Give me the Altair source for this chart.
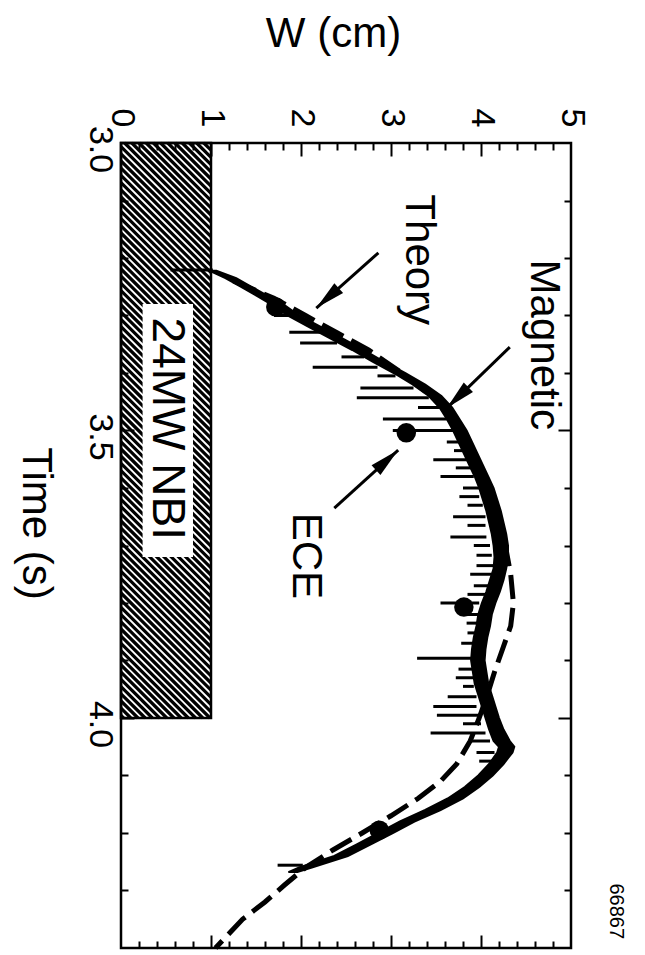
import math
import altair as alt
import pandas as pd

FONT = "Liberation Sans"

# ---------------- data ----------------
# Theory (dashed) : time (s) and W (cm)
theory_t = [3.24, 3.27, 3.30, 3.33, 3.36, 3.40, 3.44, 3.48, 3.52, 3.56, 3.60, 3.65, 3.70, 3.75, 3.80, 3.84,
            3.88, 3.92, 3.96, 4.00, 4.04, 4.08, 4.11, 4.14, 4.17, 4.20, 4.23, 4.26, 4.29, 4.32, 4.35, 4.38, 4.40]
theory_w = [1.25, 1.70, 2.05, 2.40, 2.75, 3.12, 3.45, 3.68, 3.86, 3.98, 4.08, 4.18, 4.27, 4.33, 4.36, 4.33,
            4.24, 4.15, 4.07, 3.98, 3.88, 3.73, 3.55, 3.30, 3.00, 2.68, 2.35, 2.05, 1.82, 1.60, 1.35, 1.17, 1.05]

# Magnetic (noisy solid trace): core of the trace
mag_t = [3.222, 3.235, 3.250, 3.265, 3.280, 3.300, 3.320, 3.340, 3.360, 3.380, 3.400, 3.420, 3.440, 3.460,
         3.480, 3.500, 3.520, 3.540, 3.560, 3.580, 3.600, 3.620, 3.640, 3.660, 3.680, 3.700, 3.720, 3.740,
         3.760, 3.780, 3.800, 3.820, 3.840, 3.860, 3.880, 3.900, 3.920, 3.940, 3.960, 3.980, 4.000, 4.020,
         4.040, 4.050, 4.060, 4.080, 4.100, 4.120, 4.140, 4.160, 4.180, 4.200, 4.220, 4.240, 4.260, 4.268]
mag_lo = [0.98, 1.16, 1.33, 1.50, 1.66, 1.85, 2.09, 2.33, 2.57, 2.79, 3.03, 3.24, 3.42, 3.54,
          3.62, 3.69, 3.75, 3.81, 3.87, 3.93, 3.98, 4.02, 4.06, 4.09, 4.12, 4.14, 4.15, 4.14,
          4.10, 4.06, 4.01, 3.97, 3.95, 3.92, 3.90, 3.89, 3.91, 3.93, 3.97, 4.01, 4.05, 4.09,
          4.14, 4.20, 4.18, 4.09, 3.97, 3.82, 3.63, 3.38, 3.10, 2.86, 2.62, 2.37, 1.98, 1.86]
mag_hi = [1.06, 1.28, 1.45, 1.62, 1.80, 1.98, 2.22, 2.46, 2.70, 2.92, 3.16, 3.38, 3.56, 3.68,
          3.76, 3.84, 3.90, 3.96, 4.02, 4.08, 4.14, 4.18, 4.22, 4.25, 4.28, 4.30, 4.30, 4.28,
          4.25, 4.21, 4.16, 4.12, 4.10, 4.07, 4.05, 4.04, 4.06, 4.08, 4.12, 4.16, 4.20, 4.25,
          4.32, 4.37, 4.35, 4.25, 4.13, 3.98, 3.80, 3.55, 3.26, 3.02, 2.77, 2.52, 2.12, 1.96]

# Magnetic spikes / noise excursions
spike_t = [3.221, 3.300, 3.329, 3.348, 3.372, 3.390, 3.405, 3.426, 3.443, 3.460, 3.480, 3.500,
           3.520, 3.535, 3.551, 3.565, 3.580, 3.600, 3.615, 3.630, 3.650, 3.665, 3.685, 3.700,
           3.717, 3.735, 3.750, 3.770, 3.785, 3.800, 3.820, 3.835, 3.852, 3.870, 3.896, 3.915,
           3.930, 3.945, 3.963, 3.980, 3.995, 4.010, 4.026, 4.040, 4.060, 4.075, 4.256]
spike_lo = [0.55, 1.70, 1.87, 1.99, 2.45, 2.13, 2.85, 2.66, 2.62, 3.30, 2.91, 3.02,
            3.62, 3.70, 3.47, 3.72, 3.55, 3.80, 3.76, 3.85, 3.69, 3.85, 3.66, 3.92,
            3.95, 3.95, 3.88, 3.92, 3.85, 3.55, 3.80, 3.84, 3.85, 3.78, 3.29, 3.75,
            3.72, 3.80, 3.63, 3.47, 3.51, 3.80, 3.44, 3.90, 3.95, 3.98, 1.74]
spike_hi = [1.02, 1.90, 2.25, 2.40, 2.70, 2.85, 3.05, 3.25, 3.42, 3.55, 3.62, 3.70,
            3.80, 3.85, 3.85, 3.90, 3.92, 3.98, 3.98, 4.02, 4.05, 4.05, 4.06, 4.10,
            4.12, 4.15, 4.12, 4.10, 4.05, 3.98, 3.98, 3.96, 4.05, 3.92, 3.90, 3.92,
            3.92, 3.92, 3.95, 3.95, 3.98, 4.00, 4.05, 4.10, 4.15, 4.15, 2.02]

# ECE points
ece_t = [3.285, 3.504, 3.807, 4.195]
ece_w = [1.72, 3.17, 3.81, 2.87]

# NBI heating window
nbi_t = [3.0, 4.0]
nbi_w = [0.0, 1.0]
nbi_label_box_t = [3.28, 3.72]
nbi_label_box_w = [0.24, 0.80]

# Annotations
label_text = ["Theory", "Magnetic", "ECE", "24MW NBI", "66867"]
label_w = [3.17, 4.56, 1.91, 0.36, 5.43]
label_t = [3.203, 3.351, 3.718, 3.497, 4.336]
label_size = [42, 42, 42, 46, 20]

arrow_w0 = [2.86, 4.32, 2.37]
arrow_t0 = [3.191, 3.355, 3.635]
arrow_w1 = [2.17, 3.62, 3.08]
arrow_t1 = [3.287, 3.461, 3.534]

# Axes
w_domain = [0, 5]
t_domain = [3.0, 4.4]
w_labels = [0, 1, 2, 3, 4, 5]
t_labels = [3.0, 3.5, 4.0]
w_major = [1, 2, 3, 4]
w_minor = [0.2, 0.4, 0.6, 0.8, 1.2, 1.4, 1.6, 1.8, 2.2, 2.4, 2.6, 2.8,
           3.2, 3.4, 3.6, 3.8, 4.2, 4.4, 4.6, 4.8]
t_major = [3.5, 4.0]
t_minor = [3.1, 3.2, 3.3, 3.4, 3.6, 3.7, 3.8, 3.9, 4.1, 4.2, 4.3]

# ---------------- layout ----------------
PW, PH = 450, 805
PX_W = PW / (w_domain[1] - w_domain[0])
PX_T = PH / (t_domain[1] - t_domain[0])

xs = alt.Scale(domain=w_domain, nice=False, zero=False)
ys = alt.Scale(domain=t_domain, nice=False, zero=False, reverse=True)

theory_df = pd.DataFrame({"t": theory_t, "W": theory_w})
band_df = pd.DataFrame({"t": mag_t, "lo": mag_lo, "hi": mag_hi})
spike_df = pd.DataFrame({"t": spike_t, "lo": spike_lo, "hi": spike_hi})
ece_df = pd.DataFrame({"t": ece_t, "W": ece_w})
box_df = pd.DataFrame({"t0": [nbi_t[0]], "t1": [nbi_t[1]], "w0": [nbi_w[0]], "w1": [nbi_w[1]]})
lbox_df = pd.DataFrame({"t0": [nbi_label_box_t[0]], "t1": [nbi_label_box_t[1]],
                        "w0": [nbi_label_box_w[0]], "w1": [nbi_label_box_w[1]]})
text_df = pd.DataFrame({"label": label_text, "W": label_w, "t": label_t, "size": label_size})

angles = []
for a0, b0, a1, b1 in zip(arrow_w0, arrow_t0, arrow_w1, arrow_t1):
    dx = (a1 - a0) * PX_W
    dy = (b1 - b0) * PX_T
    angles.append((math.degrees(math.atan2(dx, -dy)) + 360.0) % 360.0)
arrow_df = pd.DataFrame({"w0": arrow_w0, "t0": arrow_t0, "w1": arrow_w1, "t1": arrow_t1, "angle": angles})

# hatch pattern (decoration) inside the NBI box, 45 degrees on screen
k = PX_T / PX_W
step = 7.2 / PX_T
hatch_rows = []
i = 0
while True:
    s = nbi_t[0] - (nbi_w[1] - nbi_w[0]) / k + i * step
    if s >= nbi_t[1]:
        break
    ta = max(nbi_t[0], s)
    tb = min(nbi_t[1], s + (nbi_w[1] - nbi_w[0]) / k)
    if tb > ta:
        hatch_rows.append({"t0": ta, "t1": tb, "w0": (ta - s) * k, "w1": (tb - s) * k})
    i += 1
hatch_df = pd.DataFrame(hatch_rows)


def tick_axis(orient, values, size):
    return alt.Axis(orient=orient, values=values, tickSize=size, offset=-size, labels=False,
                    domain=False, grid=False, ticks=True, tickColor="black", tickWidth=2, title=None)


def axis_layer(xaxis, yaxis):
    return alt.Chart(theory_df).mark_point(opacity=0).encode(
        x=alt.X("W:Q", scale=xs, axis=xaxis),
        y=alt.Y("t:Q", scale=ys, axis=yaxis),
    )


main_x = alt.Axis(orient="top", values=w_labels, format="d", labelAngle=90, labelAlign="right",
                  labelBaseline="middle", labelPadding=16, labelFontSize=34, labelFont=FONT,
                  labelColor="black", labelFlush=False, labelOverlap=False, ticks=False, domain=False,
                  grid=False, title="W (cm)", titleFontSize=42, titleFont=FONT, titleFontWeight="normal",
                  titleColor="black", titleX=212, titleY=-110, titleAngle=0, titleAlign="center",
                  titleBaseline="middle")
main_y = alt.Axis(orient="left", values=t_labels, format=".1f", labelAngle=90, labelAlign="center",
                  labelBaseline="top", labelPadding=5, labelOffset=6, labelFontSize=34, labelFont=FONT,
                  labelColor="black", labelFlush=False, labelOverlap=False, ticks=False, domain=False,
                  grid=False, title="Time (s)", titleFontSize=42, titleFont=FONT, titleFontWeight="normal",
                  titleColor="black", titleX=-86, titleY=380, titleAngle=90, titleAlign="center",
                  titleBaseline="middle")

axes_layers = [
    axis_layer(main_x, main_y),
    axis_layer(tick_axis("top", w_minor, 7), tick_axis("left", t_minor, 7)),
    axis_layer(tick_axis("top", w_major, 13), tick_axis("left", t_major, 13)),
    axis_layer(tick_axis("bottom", w_minor, 7), tick_axis("right", t_minor, 7)),
    axis_layer(tick_axis("bottom", w_major, 13), tick_axis("right", t_major, 13)),
]

hatch = alt.Chart(hatch_df).mark_rule(color="black", strokeWidth=3.2).encode(
    x=alt.X("w0:Q", scale=xs, axis=None), x2="w1:Q",
    y=alt.Y("t0:Q", scale=ys, axis=None), y2="t1:Q")

box = alt.Chart(box_df).mark_rect(fillOpacity=0, stroke="black", strokeWidth=2.5).encode(
    x=alt.X("w0:Q", scale=xs, axis=None), x2="w1:Q",
    y=alt.Y("t0:Q", scale=ys, axis=None), y2="t1:Q")

lbox = alt.Chart(lbox_df).mark_rect(color="white").encode(
    x=alt.X("w0:Q", scale=xs, axis=None), x2="w1:Q",
    y=alt.Y("t0:Q", scale=ys, axis=None), y2="t1:Q")

band = alt.Chart(band_df).mark_area(orient="horizontal", color="black", stroke="black",
                                     strokeWidth=2).encode(
    y=alt.Y("t:Q", scale=ys, axis=None),
    x=alt.X("lo:Q", scale=xs, axis=None), x2="hi:Q")

spikes = alt.Chart(spike_df).mark_rule(color="black", strokeWidth=3).encode(
    x=alt.X("lo:Q", scale=xs, axis=None), x2="hi:Q",
    y=alt.Y("t:Q", scale=ys, axis=None))

theory = alt.Chart(theory_df).mark_line(color="black", strokeWidth=5, strokeDash=[24, 9]).encode(
    x=alt.X("W:Q", scale=xs, axis=None),
    y=alt.Y("t:Q", scale=ys, axis=None),
    order="t:Q")

ece = alt.Chart(ece_df).mark_point(shape="circle", filled=True, size=380, color="black", opacity=1).encode(
    x=alt.X("W:Q", scale=xs, axis=None),
    y=alt.Y("t:Q", scale=ys, axis=None))

shafts = alt.Chart(arrow_df).mark_rule(color="black", strokeWidth=3).encode(
    x=alt.X("w0:Q", scale=xs, axis=None), x2="w1:Q",
    y=alt.Y("t0:Q", scale=ys, axis=None), y2="t1:Q")

heads = alt.Chart(arrow_df).mark_point(shape="M0,0L0.22,1L-0.22,1Z", filled=True, size=3600,
                                       color="black", opacity=1).encode(
    x=alt.X("w1:Q", scale=xs, axis=None),
    y=alt.Y("t1:Q", scale=ys, axis=None),
    angle=alt.Angle("angle:Q", scale=None))

texts = alt.Chart(text_df).mark_text(angle=90, align="center", baseline="alphabetic", font=FONT,
                                     color="black").encode(
    x=alt.X("W:Q", scale=xs, axis=None),
    y=alt.Y("t:Q", scale=ys, axis=None),
    text="label:N",
    size=alt.Size("size:Q", scale=None))

chart = alt.layer(
    *axes_layers, hatch, box, lbox, band, spikes, theory, ece, shafts, heads, texts
).resolve_axis(x="independent", y="independent").properties(
    width=PW, height=PH,
    autosize=alt.AutoSizeParams(type="none"),
    padding={"left": 121, "top": 143, "right": 74, "bottom": 7},
    background="white",
).configure_view(stroke="black", strokeWidth=2.5)

chart.save("out.html", embed_options={"renderer": "svg", "actions": False})
